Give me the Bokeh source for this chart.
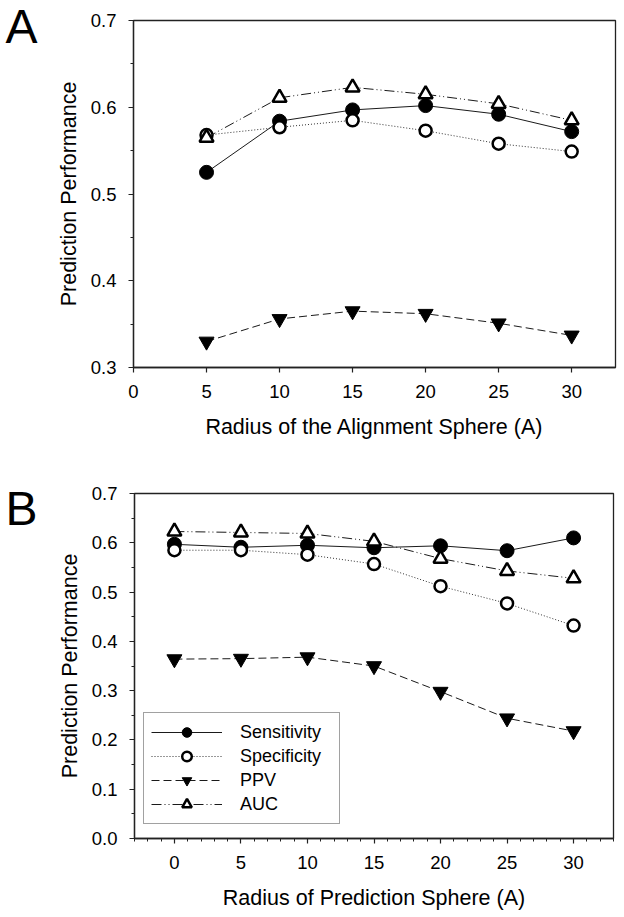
from bokeh.plotting import figure
from bokeh.layouts import column, row
from bokeh.models import (Range1d, SingleIntervalTicker, PrintfTickFormatter,
                          Div, Legend, LegendItem)
from bokeh.embed import file_html
from bokeh.resources import INLINE

# ---- data ----
radius_a = [5, 10, 15, 20, 25, 30]
sens_a = [0.525, 0.584, 0.597, 0.602, 0.592, 0.572]
spec_a = [0.568, 0.577, 0.585, 0.573, 0.558, 0.549]
ppv_a = [0.330, 0.356, 0.365, 0.362, 0.351, 0.337]
auc_a = [0.565, 0.611, 0.623, 0.615, 0.604, 0.585]

radius_b = [0, 5, 10, 15, 20, 25, 30]
sens_b = [0.597, 0.591, 0.595, 0.590, 0.594, 0.584, 0.610]
spec_b = [0.585, 0.585, 0.576, 0.557, 0.512, 0.477, 0.432]
ppv_b = [0.364, 0.365, 0.368, 0.350, 0.298, 0.244, 0.218]
auc_b = [0.623, 0.621, 0.619, 0.603, 0.568, 0.543, 0.528]

series_names = ["Sensitivity", "Specificity", "PPV", "AUC"]
xlabel_a = "Radius of the Alignment Sphere (A)"
xlabel_b = "Radius of Prediction Sphere (A)"
ylabel = "Prediction Performance"
panel_letters = ["A", "B"]

FONT = "Liberation Sans"
LETTER_FONT = "Liberation Sans"
LETTER_W = 45
MAIN_W = 573
H_A = 445
H_B = 471


def style(p, xlabel):
    p.xaxis.axis_label = xlabel
    p.yaxis.axis_label = ylabel
    for ax in p.axis:
        ax.axis_label_text_font = FONT
        ax.axis_label_text_font_size = "21.5px"
        ax.axis_label_text_font_style = "normal"
        ax.axis_label_text_color = "black"
        ax.major_label_text_font = FONT
        ax.major_label_text_font_size = "18.5px"
        ax.major_label_text_color = "black"
        ax.axis_line_color = "#222222"
        ax.axis_line_width = 1.3
        ax.major_tick_line_color = "#222222"
        ax.minor_tick_line_color = "#222222"
        ax.major_tick_line_width = 1.2
        ax.major_tick_in = 0
        ax.major_tick_out = 5
        ax.minor_tick_in = 0
        ax.minor_tick_out = 3
    p.xaxis.major_label_standoff = 12
    p.yaxis.major_label_standoff = 12
    p.xaxis.axis_label_standoff = 14
    p.yaxis.axis_label_standoff = 7
    p.yaxis.formatter = PrintfTickFormatter(format="%.1f")
    p.grid.visible = False
    p.outline_line_color = "#222222"
    p.outline_line_width = 1.3
    p.background_fill_color = "white"
    p.border_fill_color = "white"


def draw_series(p, x, sens, spec, ppv, auc):
    l1 = p.line(x, sens, line_color="#1a1a1a", line_width=1)
    m1 = p.scatter(x, sens, marker="circle", size=14, fill_color="black",
                   line_color="black", line_width=1)
    l2 = p.line(x, spec, line_color="#333333", line_width=1, line_dash="1 2")
    m2 = p.scatter(x, spec, marker="circle", size=12, fill_color="white",
                   line_color="black", line_width=2.5)
    l3 = p.line(x, ppv, line_color="#1a1a1a", line_width=1, line_dash="8 4")
    m3 = p.scatter(x, ppv, marker="inverted_triangle", size=15, fill_color="black",
                   line_color="black", line_width=1)
    l4 = p.line(x, auc, line_color="#1a1a1a", line_width=1, line_dash="10 3 1 3 1 3")
    m4 = p.scatter(x, auc, marker="triangle", size=14, fill_color="white",
                   line_color="black", line_width=2.5)
    return [[l1, m1], [l2, m2], [l3, m3], [l4, m4]]


def letter_div(letter, height, top_px):
    html = ('<div style="font-family:\'%s\'; font-size:48px; line-height:54px; '
            'margin:%dpx 0 0 0; padding:0; width:%dpx; text-align:center; '
            'color:black;">%s</div>' % (LETTER_FONT, top_px, LETTER_W - 2, letter))
    return Div(text=html, width=LETTER_W, height=height, margin=0)


# ---- panel A ----
pA = figure(width=MAIN_W, height=H_A, output_backend="svg", toolbar_location=None,
            x_range=Range1d(0, 33), y_range=Range1d(0.3, 0.7001),
            min_border_left=88, min_border_right=3, min_border_top=20,
            min_border_bottom=78)
style(pA, xlabel_a)
pA.xaxis.ticker = SingleIntervalTicker(interval=5, num_minor_ticks=0)
pA.yaxis.ticker = SingleIntervalTicker(interval=0.1, num_minor_ticks=2)
draw_series(pA, radius_a, sens_a, spec_a, ppv_a, auc_a)

# ---- panel B ----
pB = figure(width=MAIN_W, height=H_B, output_backend="svg", toolbar_location=None,
            x_range=Range1d(-3, 33), y_range=Range1d(0.0, 0.7001),
            min_border_left=89, min_border_right=5, min_border_top=48,
            min_border_bottom=78)
style(pB, xlabel_b)
pB.xaxis.ticker = SingleIntervalTicker(interval=5, num_minor_ticks=5)
pB.yaxis.ticker = SingleIntervalTicker(interval=0.1, num_minor_ticks=2)
rends = draw_series(pB, radius_b, sens_b, spec_b, ppv_b, auc_b)

legend = Legend(items=[LegendItem(label=n, renderers=r) for n, r in zip(series_names, rends)],
                location=(9, 14), margin=0, padding=7, spacing=0,
                glyph_width=71, glyph_height=24, label_standoff=18,
                label_width=92, label_height=20,
                label_text_font=FONT, label_text_font_size="18px",
                label_text_color="black",
                border_line_color="#444444", border_line_width=1.5,
                background_fill_color="white", background_fill_alpha=1.0)
pB.add_layout(legend)

dA = letter_div(panel_letters[0], H_A, 0)
dB = letter_div(panel_letters[1], H_B, 37)

layout = column(row(dA, pA), row(dB, pB))
open("out.html", "w").write(file_html(layout, INLINE))
